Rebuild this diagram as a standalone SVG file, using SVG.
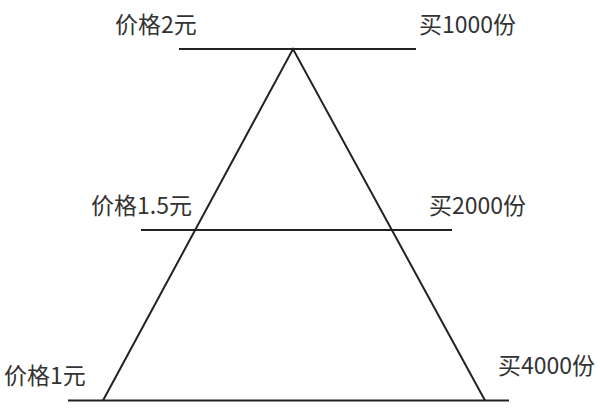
<svg xmlns="http://www.w3.org/2000/svg" width="600" height="411" viewBox="0 0 600 411">
<style>
.ln{stroke:#222;stroke-width:2;fill:none;stroke-linecap:butt}
.t{font-family:"Noto Sans CJK SC","Liberation Sans",sans-serif;font-size:23px;fill:#333}
</style>
<rect width="600" height="411" fill="#fff"/>
<g id="connectors">
<line class="ln" x1="179" y1="49" x2="416" y2="49"/>
<line class="ln" x1="141" y1="230" x2="452" y2="230"/>
<line class="ln" x1="68" y1="400.5" x2="509" y2="400.5"/>
<polyline class="ln" points="103,400.5 293,49 485,400.5"/>
</g>
<g id="label-top-left"><text class="t" x="115" y="33">价格2元</text></g>
<g id="label-top-right"><text class="t" x="419" y="33">买1000份</text></g>
<g id="label-mid-left"><text class="t" x="91" y="214">价格1.5元</text></g>
<g id="label-mid-right"><text class="t" x="429" y="214">买2000份</text></g>
<g id="label-bot-left"><text class="t" x="4" y="384">价格1元</text></g>
<g id="label-bot-right"><text class="t" x="498" y="374">买4000份</text></g>
</svg>
